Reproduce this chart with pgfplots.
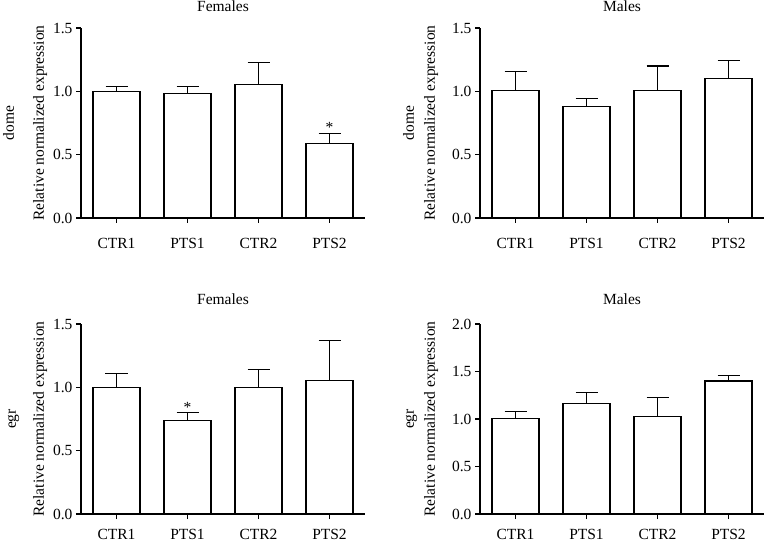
\documentclass[border=0pt]{standalone}
\usepackage{pgfplots}
\pgfplotsset{compat=1.18}
\usepackage{fontspec}
\setmainfont{Liberation Serif}
\newcommand\fs{\fontsize{15.5}{18}\selectfont}
\pgfplotsset{
  panel/.style={
    scale only axis, width=284pt, height=190pt,
    anchor=south west,
    axis x line*=bottom, axis y line*=left,
    axis line style={line width=1.1pt, black},
    xmin=-0.5, xmax=3.5, ymin=0,
    enlargelimits=false,
    xtick={0,1,2,3}, xticklabels={CTR1,PTS1,CTR2,PTS2},
    tick align=outside, major tick length=5pt,
    every tick/.style={black, line width=1.1pt},
    tick label style={font=\fs},
    y tick label style={/pgf/number format/.cd, fixed, fixed zerofill, precision=1, assume math mode=true, /tikz/.cd},
    ylabel style={font=\fs, align=center, inner sep=0pt, anchor=south},
  },
  bars/.style={ybar, bar width=47pt, fill=white, draw=black, line width=1.1pt,
    error bars/.cd, y dir=plus, y explicit,
    error bar style={line width=1.1pt, black},
    error mark options={rotate=90, mark size=11pt, line width=1.1pt, black}},
}
\begin{document}
\begin{tikzpicture}
\useasboundingbox (0,0) rectangle (767pt,543pt);
% top-left
\begin{axis}[panel, at={(81pt,325pt)}, title={Females}, ymax=1.5, ytick={0,0.5,1,1.5},
  title style={font=\fs, yshift=7pt}, x tick label style={inner sep=0pt, yshift=-15.2pt},
  ylabel={dome\\[12pt]Relative normalized expression},
  ylabel style={at={([xshift=-33.6pt]rel axis cs:0,0.5)}}]
\addplot[bars] coordinates {(0,1.0) +- (0,0.035) (1,0.98) +- (0,0.06) (2,1.055) +- (0,0.17) (3,0.59) +- (0,0.08)};
\node[font=\fs, anchor=base] at (axis cs:3,0.675) {*};
\end{axis}
% top-right
\begin{axis}[panel, at={(480pt,325pt)}, title={Males}, ymax=1.5, ytick={0,0.5,1,1.5},
  title style={font=\fs, yshift=7pt}, x tick label style={inner sep=0pt, yshift=-15.2pt},
  ylabel={dome\\[3pt]Relative normalized expression},
  ylabel style={at={([xshift=-41.6pt]rel axis cs:0,0.5)}}]
\addplot[bars] coordinates {(0,1.005) +- (0,0.15) (1,0.88) +- (0,0.06) (2,1.005) +- (0,0.195) (3,1.1) +- (0,0.14)};
\end{axis}
% bottom-left
\begin{axis}[panel, at={(81pt,29pt)}, title={Females}, ymax=1.5, ytick={0,0.5,1,1.5},
  title style={font=\fs, yshift=10pt}, x tick label style={inner sep=0pt, yshift=-10pt},
  ylabel={egr\\[10pt]Relative normalized expression},
  ylabel style={at={([xshift=-33.6pt]rel axis cs:0,0.5)}}]
\addplot[bars] coordinates {(0,1.0) +- (0,0.11) (1,0.735) +- (0,0.065) (2,1.0) +- (0,0.14) (3,1.056) +- (0,0.314)};
\node[font=\fs, anchor=base] at (axis cs:1,0.805) {*};
\end{axis}
% bottom-right
\begin{axis}[panel, at={(480pt,29pt)}, title={Males}, ymax=2, ytick={0,0.5,1,1.5,2},
  title style={font=\fs, yshift=10pt}, x tick label style={inner sep=0pt, yshift=-10pt},
  ylabel={egr\\[3pt]Relative normalized expression},
  ylabel style={at={([xshift=-41.6pt]rel axis cs:0,0.5)}}]
\addplot[bars] coordinates {(0,1.005) +- (0,0.07) (1,1.163) +- (0,0.112) (2,1.023) +- (0,0.207) (3,1.40) +- (0,0.054)};
\end{axis}
\end{tikzpicture}
\end{document}
